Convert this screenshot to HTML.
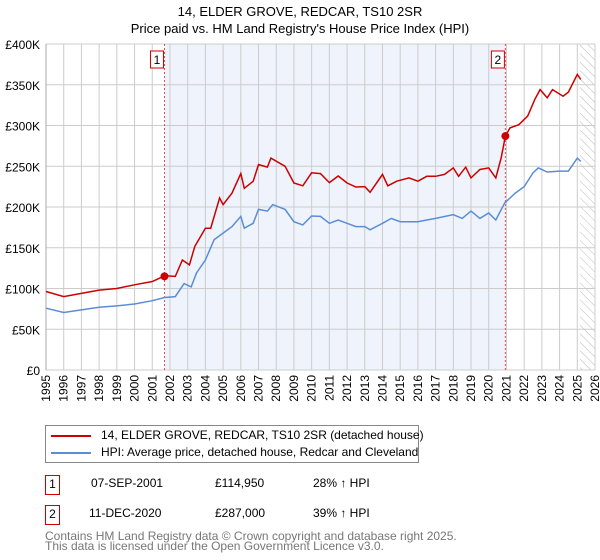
<!DOCTYPE html>
<html><head><meta charset="utf-8"><style>
body{margin:0;background:#fff;font-family:"Liberation Sans","DejaVu Sans",sans-serif;}
#wrap{position:relative;width:600px;height:560px;overflow:hidden}
.t{position:absolute;font-size:12px;color:#000}
</style></head><body><div id="wrap">
<div class="t" style="left:0;width:600px;text-align:center;top:3px;font-size:13px;line-height:17px">14, ELDER GROVE, REDCAR, TS10 2SR<br>Price paid vs. HM Land Registry's House Price Index (HPI)</div>
<svg id="chart" width="600" height="420" style="position:absolute;left:0;top:0"></svg>
<div style="position:absolute;left:45px;top:425px;width:372px;height:36px;border:1px solid #888;font-size:12px">
 <div style="position:absolute;left:5px;top:2px;white-space:nowrap"><span style="display:inline-block;width:40px;height:2px;background:#cc0000;vertical-align:middle;margin-right:10px"></span>14, ELDER GROVE, REDCAR, TS10 2SR (detached house)</div>
 <div style="position:absolute;left:5px;top:19px;white-space:nowrap"><span style="display:inline-block;width:40px;height:2px;background:#5b8dd6;vertical-align:middle;margin-right:10px"></span>HPI: Average price, detached house, Redcar and Cleveland</div>
</div>
<div>
 <div class="t" style="left:45px;top:475px;width:13px;height:18px;border:1px solid #cc0000;text-align:center;line-height:17px">1</div>
 <div class="t" style="left:91px;top:476px">07-SEP-2001</div>
 <div class="t" style="left:215px;top:476px">£114,950</div>
 <div class="t" style="left:313px;top:476px">28% ↑ HPI</div>
</div>
<div>
 <div class="t" style="left:45px;top:505px;width:13px;height:18px;border:1px solid #cc0000;text-align:center;line-height:17px">2</div>
 <div class="t" style="left:89px;top:506px">11-DEC-2020</div>
 <div class="t" style="left:215px;top:506px">£287,000</div>
 <div class="t" style="left:313px;top:506px">39% ↑ HPI</div>
</div>
<div class="t" style="left:45px;top:531px;color:#777;line-height:10px;white-space:nowrap">Contains HM Land Registry data © Crown copyright and database right 2025.<br>This data is licensed under the Open Government Licence v3.0.</div>
</div>
<script>
const yTicks=[0,50000,100000,150000,200000,250000,300000,350000,400000];
const yTickLabels=["£0","£50K","£100K","£150K","£200K","£250K","£300K","£350K","£400K"];
const xYears=[1995,1996,1997,1998,1999,2000,2001,2002,2003,2004,2005,2006,2007,2008,2009,2010,2011,2012,2013,2014,2015,2016,2017,2018,2019,2020,2021,2022,2023,2024,2025,2026];
const hpiT=[1995,1996,1997,1998,1999,2000,2001,2001.7,2002.3,2002.8,2003.2,2003.5,2004,2004.5,2005,2005.5,2006,2006.2,2006.7,2007,2007.5,2007.8,2008.5,2009,2009.5,2010,2010.5,2011,2011.5,2012,2012.5,2013,2013.3,2014,2014.5,2015,2016,2016.5,2017,2018,2018.5,2019,2019.5,2020,2020.4,2020.9,2021.5,2022,2022.5,2022.8,2023.3,2024,2024.5,2025,2025.2];
const hpiV=[75.8,70.5,73.8,77,78.7,81,85,89,90,106,102,119,135,160,168,176,188.5,174,180,197,195,203,197,182,178,189,188.5,180,184,180,176,176,172,180,186,182,182,184,186,190.5,186,195,186,192.6,184,205,217,225,242,248,243,244,244,260,256];
const propT=[1995,1996,1997,1998,1999,2000,2001,2001.7,2002.3,2002.7,2003.1,2003.4,2004,2004.3,2004.8,2005,2005.5,2006,2006.2,2006.7,2007,2007.5,2007.7,2008.5,2009,2009.5,2010,2010.5,2011,2011.5,2012,2012.5,2013,2013.3,2014,2014.3,2014.8,2015.5,2016,2016.5,2017,2017.5,2018,2018.3,2018.7,2019,2019.5,2020,2020.4,2020.7,2020.94,2021.2,2021.7,2022.2,2022.6,2022.9,2023.3,2023.6,2024.2,2024.5,2025,2025.2];
const propV=[96.3,90,94,98,100,104.5,108.6,115.6,114.8,135,129,151.6,174,174,211,203,217,241,223,231.6,252,249,260,250,229.5,226,242,241,230,238,229.5,224.6,225,218,240,226,231.6,235.7,231.6,237.7,237.7,240,248,237.7,249,235.7,246,248,235.7,260,287,297,301,311.5,332,344,334,344,336,341,362.7,356.6];
const saleT=[2001.69,2020.94];
const saleV=[114950,287000];
const saleLabels=["1","2"];
const X0=46,X1=595,Y0=370,Y1=44;
const sx=t=>X0+(t-1995)/(2026-1995)*(X1-X0);
const sy=v=>Y0-v/400000*(Y0-Y1);
const svg=document.getElementById('chart');const NS='http://www.w3.org/2000/svg';
function mk(tag,attrs,parent){const e=document.createElementNS(NS,tag);for(const k in attrs)e.setAttribute(k,attrs[k]);(parent||svg).appendChild(e);return e;}
const defs=mk('defs',{});
const pat=mk('pattern',{id:'hatch',width:6,height:6,patternUnits:'userSpaceOnUse',patternTransform:'rotate(-45)'},defs);
mk('line',{x1:0,y1:0,x2:0,y2:6,stroke:'#bbb','stroke-width':1},pat);
const shade=mk('rect',{x:sx(saleT[0]),y:Y1,width:sx(saleT[1])-sx(saleT[0]),height:Y0-Y1,fill:'#eef3fc'});

const hatch=mk('rect',{x:sx(2025.15),y:Y1,width:X1-sx(2025.15),height:Y0-Y1,fill:'url(#hatch)'});

xYears.forEach(y=>{const g=mk('line',{x1:sx(y),x2:sx(y),y1:Y1,y2:Y0,stroke:'#ccc','stroke-width':1});

const t=mk('text',{x:0,y:0,transform:`translate(${sx(y)+4},${Y0+5}) rotate(-90)`,'text-anchor':'end','font-size':12,'font-family':'Liberation Sans, DejaVu Sans, sans-serif'});t.textContent=y;
});
yTicks.forEach((v,i)=>{const g=mk('line',{x1:X0,x2:X1,y1:sy(v),y2:sy(v),stroke:'#ccc','stroke-width':1});

const t=mk('text',{x:X0-6,y:sy(v)+5,'text-anchor':'end','font-size':12,'font-family':'Liberation Sans, DejaVu Sans, sans-serif'});t.textContent=yTickLabels[i];
});
mk('line',{x1:X0,x2:X0,y1:Y1,y2:Y0,stroke:'#aaa'});
saleT.forEach((t,i)=>{const l=mk('line',{x1:sx(t),x2:sx(t),y1:Y1,y2:Y0,stroke:'#e05050','stroke-dasharray':'2,2','stroke-width':1});
});
function line(T,V,color,name){const d=T.map((t,i)=>(i?'L':'M')+sx(t).toFixed(1)+','+sy(V[i]*1000).toFixed(1)).join('');
const p=mk('path',{d:d,fill:'none',stroke:color,'stroke-width':1.5});}
line(hpiT,hpiV,'#5b8dd6','hpi-line');
line(propT,propV,'#cc0000','property-price-line');
saleT.forEach((t,i)=>{const c=mk('circle',{cx:sx(t),cy:sy(saleV[i]),r:4,fill:'#cc0000'});

const r=mk('rect',{x:sx(t)-14,y:51,width:13,height:17,fill:'#fff',stroke:'#cc0000'});

const tx=mk('text',{x:sx(t)-7.5,y:64,'text-anchor':'middle','font-size':12,'font-family':'Liberation Sans, DejaVu Sans, sans-serif'});tx.textContent=saleLabels[i];
});
</script></body></html>
